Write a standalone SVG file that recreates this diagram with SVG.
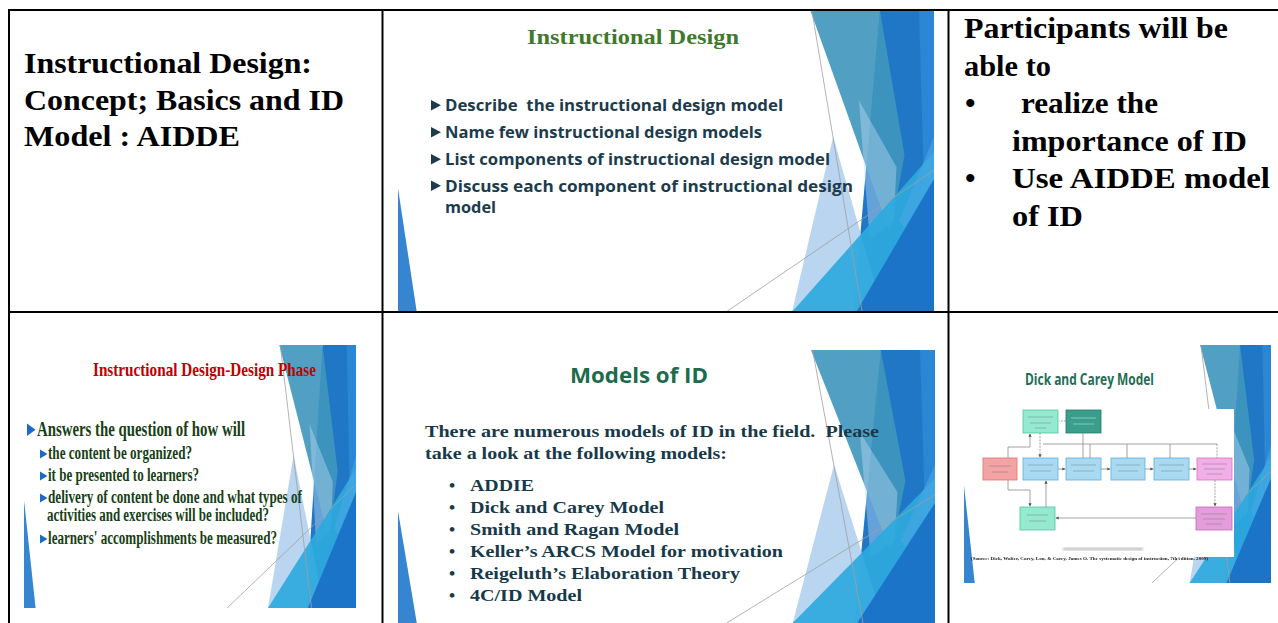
<svg xmlns="http://www.w3.org/2000/svg" xmlns:xlink="http://www.w3.org/1999/xlink" width="1278" height="623" viewBox="0 0 1278 623">
<defs>
<style>
.grid{stroke:#000;stroke-width:2;fill:none}
.tnr{font-family:"Liberation Serif","Times New Roman",serif;font-weight:bold}
.sans{font-family:"Open Sans","Liberation Sans",sans-serif;font-weight:bold}
.big{font-size:30px;fill:#000}
.s2{font-size:16px;fill:#1c3b4c}
.s4{fill:#173f17}
.s5{font-size:17.5px;fill:#17394a}
.thin{stroke:#a0a0a0;stroke-width:0.8;fill:none;vector-effect:non-scaling-stroke}
.conn{stroke:#8c8c8c;stroke-width:0.8;fill:none}
.dash{stroke-dasharray:2 1.2}
.smudge{stroke:#6a7a80;stroke-width:1.2;opacity:0.45}
.pre{white-space:pre}
</style>
<g id="facet">
<polygon points="899,0 1000,0 1000,1000 850,1000" fill="#1f77c6"/>
<polygon points="972,0 1000,0 1000,1000 988,1000" fill="#2b86d6"/>
<polygon points="769,0 899,0 945,480 918,739" fill="#3e96bc" opacity="0.9"/>
<polygon points="812,420 735,1000 905,1000" fill="#a8cbec" opacity="0.8"/>
<polygon points="860,300 930,520 925,700 880,760" fill="#b9d6f0" opacity="0.45"/>
<polygon points="735,1000 1000,470 1000,1000" fill="#2ea9de" opacity="0.92"/>
<polygon points="1000,420 1000,560 945,720 935,700" fill="#4aa6e4" opacity="0.6"/>
<polygon points="855,1000 1000,560 1000,1000" fill="#1b71c7" opacity="0.95"/>
<polygon points="0,590 0,1000 35,1000" fill="#3585d0"/>
<line x1="772" y1="0" x2="866" y2="1000" class="thin"/>
<line x1="612" y1="1000" x2="1000" y2="530" class="thin"/>
</g>
<path id="tri2" d="M0,0 L0,10.5 L10,5.25 Z" fill="#1c3b4c"/>
<path id="tri4" d="M0,0 L0,9 L7.5,4.5 Z" fill="#2068c8"/>
<marker id="arr" viewBox="0 0 6 6" refX="5" refY="3" markerWidth="4" markerHeight="4" orient="auto"><path d="M0,0 L6,3 L0,6 Z" fill="#555"/></marker>
<filter id="soft" x="-5%" y="-5%" width="110%" height="110%"><feGaussianBlur stdDeviation="0.35"/></filter>
<filter id="blur2"><feGaussianBlur stdDeviation="0.8"/></filter>
</defs>

<rect x="0" y="0" width="1278" height="623" fill="#fff"/>

<g id="cell-1-title">
<text class="tnr big" x="24" y="72.5" textLength="288" lengthAdjust="spacingAndGlyphs">Instructional Design:</text>
<text class="tnr big" x="24" y="109.5" textLength="320" lengthAdjust="spacingAndGlyphs">Concept; Basics and ID</text>
<text class="tnr big" x="24" y="146" textLength="216" lengthAdjust="spacingAndGlyphs">Model : AIDDE</text>
</g>

<g id="cell-2-slide">
<use xlink:href="#facet" transform="translate(398,10) scale(0.536,0.302)"/>
<text class="tnr" x="633" y="44" text-anchor="middle" font-size="22" fill="#3f7a2c" textLength="212" lengthAdjust="spacingAndGlyphs">Instructional Design</text>
<use xlink:href="#tri2" x="431" y="100"/>
<use xlink:href="#tri2" x="431" y="127"/>
<use xlink:href="#tri2" x="431" y="154"/>
<use xlink:href="#tri2" x="431" y="180.5"/>
<text class="sans s2 pre" x="445" y="111" textLength="338" lengthAdjust="spacingAndGlyphs">Describe  the instructional design model</text>
<text class="sans s2" x="445" y="138" textLength="317" lengthAdjust="spacingAndGlyphs">Name few instructional design models</text>
<text class="sans s2" x="445" y="165" textLength="385" lengthAdjust="spacingAndGlyphs">List components of instructional design model</text>
<text class="sans s2" x="445" y="191.5" textLength="408" lengthAdjust="spacingAndGlyphs">Discuss each component of instructional design</text>
<text class="sans s2" x="445" y="212.5" textLength="51" lengthAdjust="spacingAndGlyphs">model</text>
</g>

<g id="cell-3-objectives">
<text class="tnr big" x="964" y="38" textLength="264" lengthAdjust="spacingAndGlyphs">Participants will be</text>
<text class="tnr big" x="964" y="75.5" textLength="87" lengthAdjust="spacingAndGlyphs">able to</text>
<text class="tnr big" x="965" y="113">•</text>
<text class="tnr big" x="1021" y="113" textLength="137" lengthAdjust="spacingAndGlyphs">realize the</text>
<text class="tnr big" x="1012" y="150.5" textLength="235" lengthAdjust="spacingAndGlyphs">importance of ID</text>
<text class="tnr big" x="965" y="188">•</text>
<text class="tnr big" x="1012" y="188" textLength="258" lengthAdjust="spacingAndGlyphs">Use AIDDE model</text>
<text class="tnr big" x="1012" y="225.5" textLength="71" lengthAdjust="spacingAndGlyphs">of ID</text>
</g>

<g id="cell-4-slide">
<use xlink:href="#facet" transform="translate(24,345) scale(0.332,0.263)"/>
<text class="tnr" x="204.5" y="376" text-anchor="middle" font-size="19" fill="#c00000" textLength="223" lengthAdjust="spacingAndGlyphs">Instructional Design-Design Phase</text>
<polygon points="27,423.5 27,436 35.5,429.75" fill="#2068c8"/>
<text class="tnr s4" x="37" y="436" font-size="20" textLength="208" lengthAdjust="spacingAndGlyphs">Answers the question of how will</text>
<use xlink:href="#tri4" x="40" y="449.5"/>
<text class="tnr s4" x="48" y="459" font-size="18" textLength="144" lengthAdjust="spacingAndGlyphs">the content be organized?</text>
<use xlink:href="#tri4" x="40" y="471.5"/>
<text class="tnr s4" x="48" y="481" font-size="18" textLength="151" lengthAdjust="spacingAndGlyphs">it be presented to learners?</text>
<use xlink:href="#tri4" x="40" y="493.5"/>
<text class="tnr s4" x="48" y="503" font-size="18" textLength="254" lengthAdjust="spacingAndGlyphs">delivery of content be done and what types of</text>
<text class="tnr s4" x="47" y="521" font-size="18" textLength="222" lengthAdjust="spacingAndGlyphs">activities and exercises will be included?</text>
<use xlink:href="#tri4" x="40" y="534.5"/>
<text class="tnr s4" x="48" y="544" font-size="18" textLength="229" lengthAdjust="spacingAndGlyphs">learners' accomplishments be measured?</text>
</g>

<g id="cell-5-slide">
<use xlink:href="#facet" transform="translate(398,350) scale(0.537,0.273)"/>
<text class="sans" x="639" y="383" text-anchor="middle" font-size="21" fill="#1d6b4b" textLength="138" lengthAdjust="spacingAndGlyphs">Models of ID</text>
<text class="tnr s5 pre" x="425" y="437" textLength="454" lengthAdjust="spacingAndGlyphs">There are numerous models of ID in the field.  Please</text>
<text class="tnr s5" x="425" y="459" textLength="302" lengthAdjust="spacingAndGlyphs">take a look at the following models:</text>
<text class="tnr s5" x="449" y="491">•</text>
<text class="tnr s5" x="470" y="491" textLength="64" lengthAdjust="spacingAndGlyphs">ADDIE</text>
<text class="tnr s5" x="449" y="513">•</text>
<text class="tnr s5" x="470" y="513" textLength="194" lengthAdjust="spacingAndGlyphs">Dick and Carey Model</text>
<text class="tnr s5" x="449" y="535">•</text>
<text class="tnr s5" x="470" y="535" textLength="209" lengthAdjust="spacingAndGlyphs">Smith and Ragan Model</text>
<text class="tnr s5" x="449" y="557">•</text>
<text class="tnr s5" x="470" y="557" textLength="313" lengthAdjust="spacingAndGlyphs">Keller’s ARCS Model for motivation</text>
<text class="tnr s5" x="449" y="579">•</text>
<text class="tnr s5" x="470" y="579" textLength="270" lengthAdjust="spacingAndGlyphs">Reigeluth’s Elaboration Theory</text>
<text class="tnr s5" x="449" y="601">•</text>
<text class="tnr s5" x="470" y="601" textLength="112" lengthAdjust="spacingAndGlyphs">4C/ID Model</text>
</g>

<g id="cell-6-slide">
<use xlink:href="#facet" transform="translate(964,345) scale(0.307,0.238)"/>
<text class="sans" x="1089.5" y="385" text-anchor="middle" font-size="16" fill="#1e6e55" textLength="129" lengthAdjust="spacingAndGlyphs">Dick and Carey Model</text>
<rect x="981" y="409" width="253" height="148" fill="#fff"/>
<g id="dick-carey-diagram" filter="url(#soft)">
<g id="dc-box-needs"><rect x="983" y="458" width="34" height="22" fill="#f3a3a3" stroke="#e07070" stroke-width="0.8"/><path class="smudge" d="M989,466 H1011 M992,472 H1008"/></g>
<g id="dc-box-context"><rect x="1023" y="410" width="35" height="23" fill="#95e9cf" stroke="#52c6a2" stroke-width="0.8"/><path class="smudge" d="M1028,417 H1053 M1030,423 H1051 M1035,428 H1046"/></g>
<g id="dc-box-learners"><rect x="1066" y="410" width="35" height="23" fill="#3a9e8c" stroke="#24786a" stroke-width="0.8"/><path class="smudge" d="M1071,418 H1096 M1073,424 H1094" style="stroke:#cfe"/></g>
<g id="dc-box-b1"><rect x="1023" y="458" width="35" height="22" fill="#a9daf2" stroke="#5daee0" stroke-width="0.8"/><path class="smudge" d="M1028,465 H1053 M1030,471 H1051"/></g>
<g id="dc-box-b2"><rect x="1066" y="458" width="35" height="22" fill="#a9daf2" stroke="#5daee0" stroke-width="0.8"/><path class="smudge" d="M1071,465 H1096 M1073,471 H1094"/></g>
<g id="dc-box-b3"><rect x="1111" y="458" width="34" height="22" fill="#a9daf2" stroke="#5daee0" stroke-width="0.8"/><path class="smudge" d="M1116,465 H1140 M1118,471 H1138"/></g>
<g id="dc-box-b4"><rect x="1154" y="458" width="35" height="22" fill="#a9daf2" stroke="#5daee0" stroke-width="0.8"/><path class="smudge" d="M1159,465 H1184 M1161,471 H1182"/></g>
<g id="dc-box-pink1"><rect x="1197" y="458" width="35" height="22" fill="#f2aee6" stroke="#d673c9" stroke-width="0.8"/><path class="smudge" d="M1202,464 H1227 M1204,469 H1225 M1207,474 H1222"/></g>
<g id="dc-box-mint2"><rect x="1020" y="507" width="35" height="23" fill="#95e9cf" stroke="#52c6a2" stroke-width="0.8"/><path class="smudge" d="M1027,515 H1048 M1029,521 H1046"/></g>
<g id="dc-box-pink2"><rect x="1196" y="507" width="36" height="23" fill="#e59cdb" stroke="#c965bd" stroke-width="0.8"/><path class="smudge" d="M1201,514 H1227 M1203,519 H1225 M1206,524 H1222"/></g>
<g id="connectors">
<path class="conn" d="M1043,444 H1217"/>
<path class="conn" d="M1083,433 V458"/>
<path class="conn" d="M1090,444 V458"/>
<path class="conn" d="M1127,444 V458"/>
<path class="conn" d="M1170,444 V458"/>
<path class="conn dash" d="M1217,444 V458"/>
<path class="conn" d="M1008,458 V447 H1030 V434" marker-end="url(#arr)"/>
<path class="conn dash" d="M1040,433 V457" marker-end="url(#arr)"/>
<path class="conn" d="M1008,480 V490 H1030 V506" marker-end="url(#arr)"/>
<path class="conn" d="M1046,507 V481" marker-end="url(#arr)"/>
<path class="conn" d="M1058,469 H1065" marker-end="url(#arr)"/>
<path class="conn" d="M1101,469 H1110" marker-end="url(#arr)"/>
<path class="conn" d="M1145,469 H1153" marker-end="url(#arr)"/>
<path class="conn" d="M1189,469 H1196" marker-end="url(#arr)"/>
<path class="conn dash" d="M1215,480 V506" marker-end="url(#arr)"/>
<path class="conn" d="M1196,518 H1056" marker-end="url(#arr)"/>
<path class="conn dash" d="M1066,421 H1059"/>
</g>
</g>
<rect x="1063" y="547.5" width="80" height="3" fill="#c4c4c4" filter="url(#blur2)"/>
<text class="tnr" x="971" y="560" font-size="5" fill="#222" textLength="237" lengthAdjust="spacingAndGlyphs">(Source: Dick, Walter, Carey, Lou, &amp; Carey, James O. The systematic design of instruction, 7th edition, 2009)</text>
</g>

<g id="table-grid" class="grid">
<line x1="8" y1="10" x2="1278" y2="10"/>
<line x1="9" y1="9" x2="9" y2="623"/>
<line x1="382.5" y1="10" x2="382.5" y2="623"/>
<line x1="948.5" y1="10" x2="948.5" y2="623"/>
<line x1="8" y1="312" x2="1278" y2="312"/>
</g>
</svg>
